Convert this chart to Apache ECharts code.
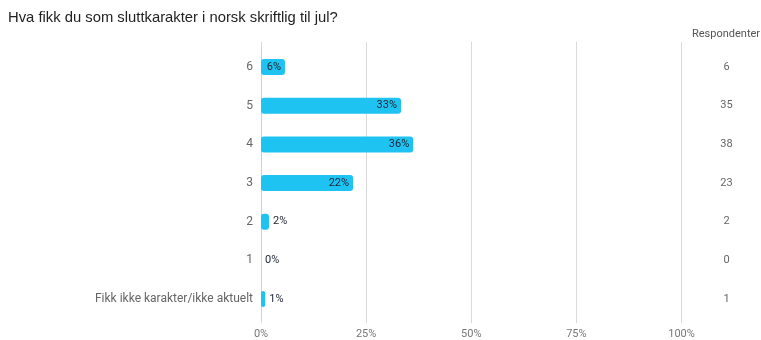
<!DOCTYPE html>
<html><head><meta charset="utf-8">
<script src="https://cdn.jsdelivr.net/npm/echarts@6/dist/echarts.min.js"></script>
<style>html,body{margin:0;padding:0;background:#fff}#c{width:761px;height:340px}</style>
</head><body><div id="c"></div>
<script>
var categories = ['6', '5', '4', '3', '2', '1', 'Fikk ikke karakter/ikke aktuelt'];
var percentValues = [5.7, 33.3, 36.2, 21.9, 1.9, 0, 1.0];
var respondents = [6, 35, 38, 23, 2, 0, 1];
var tickLabels = ['0%', '25%', '50%', '75%', '100%'];

var chart = echarts.init(document.getElementById('c'));
var barData = percentValues.map(function (v) {
  return {
    value: v,
    label: v >= 5 ? { position: 'insideRight', distance: 4 } : { position: 'right', distance: 4 }
  };
});
chart.setOption({
  animation: false,
  title: [
    { text: 'Hva fikk du som sluttkarakter i norsk skriftlig til jul?', left: 3, top: 5,
      textStyle: { fontFamily: 'Liberation Sans', fontSize: 14.8, fontWeight: 'normal', color: '#222' } },
    { text: 'Respondenter', left: 687, top: 24,
      textStyle: { fontFamily: 'Roboto', fontSize: 11, fontWeight: 'normal', color: '#555' } }
  ],
  grid: [
    { left: 261, right: 79.5, top: 47.7, height: 270.7 },
    { left: 261, right: 79.5, top: 42, height: 281 }
  ],
  xAxis: [
    { gridIndex: 0, type: 'value', min: 0, max: 100, interval: 25, show: false },
    { gridIndex: 1, type: 'value', min: 0, max: 100, interval: 25,
      axisLine: { show: false }, axisTick: { show: false },
      splitLine: { lineStyle: { color: '#d9d9d9', width: 1 } },
      axisLabel: { color: '#777', fontFamily: 'Roboto', fontSize: 11, margin: 6,
        formatter: function (v) { return tickLabels[Math.round(v / 25)]; } } }
  ],
  yAxis: [
    { gridIndex: 0, type: 'category', data: categories, inverse: true,
      axisLine: { show: true, lineStyle: { color: '#cfcfcf' } }, axisTick: { show: false },
      axisLabel: { color: '#666', fontFamily: 'Roboto', fontSize: 12, margin: 8 } },
    { gridIndex: 0, type: 'category', data: respondents.map(String), inverse: true, position: 'right',
      axisLine: { show: false }, axisTick: { show: false },
      axisLabel: { color: '#666', fontFamily: 'Roboto', fontSize: 11, margin: 45, align: 'center' } },
    { gridIndex: 1, type: 'category', data: ['a'], show: false }
  ],
  series: [{
    type: 'bar', xAxisIndex: 0, yAxisIndex: 0,
    data: barData,
    barWidth: 16,
    itemStyle: { color: '#1ec3f2', borderRadius: 3 },
    label: { show: true, color: '#1c2433', fontFamily: 'Roboto', fontSize: 11,
      formatter: function (p) { return Math.round(p.value) + '%'; } }
  }]
});
</script></body></html>
